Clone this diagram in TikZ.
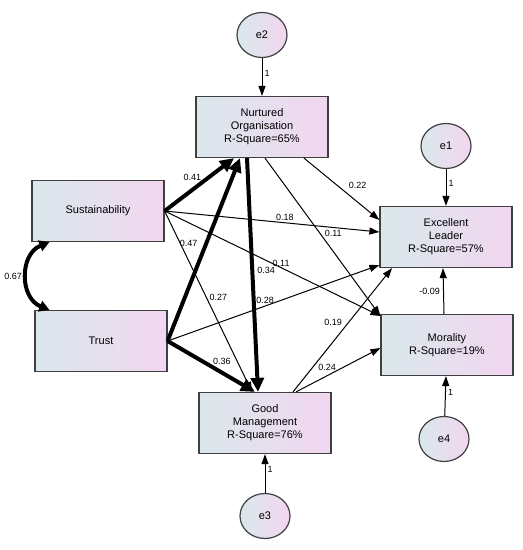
\documentclass[tikz,border=0pt]{standalone}
\usepackage{fontspec}
\setmainfont{Liberation Sans}
\usetikzlibrary{arrows.meta,shapes.geometric}
\definecolor{boxleft}{RGB}{218,232,236}
\definecolor{boxright}{RGB}{242,214,240}
\begin{document}
\begin{tikzpicture}
[
x=1pt, y=-1pt,
observed/.style={rectangle, draw=black!75, line width=1.2pt, left color=boxleft, right color=boxright, minimum width=132pt, minimum height=61pt, align=center, inner sep=2pt, font=\fontsize{11}{13}\selectfont},
residual/.style={ellipse, draw=black!75, line width=1.2pt, left color=boxleft, right color=boxright, minimum width=50pt, minimum height=45pt, inner sep=0pt, font=\fontsize{11}{13}\selectfont},
path_thin/.style={line width=1pt, -{Triangle[length=10pt,width=7pt]}},
path_bold/.style={line width=4pt, -{Triangle[length=14pt,width=13pt]}},
coef/.style={font=\fontsize{9}{10}\selectfont, inner sep=1pt}
]
\useasboundingbox (0,0) rectangle (523,550);
%Nodes
\node[observed]     (sust)      at (98,211)     {Sustainability};
\node[observed]     (trust)     at (101,341)    {Trust};
\node[observed]     (no)        at (262,127)    {Nurtured\\Organisation\\R-Square=65\%};
\node[observed]     (gm)        at (265,423)    {Good\\Management\\R-Square=76\%};
\node[observed]     (el)        at (446,237)    {Excellent\\Leader\\R-Square=57\%};
\node[observed]     (mor)       at (447,345)    {Morality\\R-Square=19\%};
\node[residual]     (e2)        at (262,35)     {e2};
\node[residual]     (e1)        at (446,146)    {e1};
\node[residual]     (e3)        at (265,516)    {e3};
\node[residual]     (e4)        at (444,439)    {e4};

%Lines
\draw[line width=4pt, {Triangle[length=10pt,width=11pt]}-{Triangle[length=10pt,width=11pt]}]
([xshift=18pt]sust.south west) .. controls +(-30,12) and +(-30,-12) .. ([xshift=15pt]trust.north west)
node[coef, pos=.5, left=2pt] {0.67};
\path
(e2)      edge [path_thin]  node [coef, pos=.4, right=1pt]     {1}     (no)
(e1)      edge [path_thin]  node [coef, pos=.4, right=1pt]     {1}     (el)
(e3)      edge [path_thin]  node [coef, pos=.6, right=1pt]     {1}     (gm)
(e4)      edge [path_thin]  node [coef, pos=.6, right=1pt]     {1}     (mor)
([xshift=-3pt]mor.north) edge [path_thin] node [coef, pos=.5, left=2pt] {-0.09} ([xshift=-3pt]el.south)
(sust.east)  edge [path_bold]  node [coef, pos=.4, above=6pt]       {0.41}  ([xshift=-28pt]no.south)
(trust.east) edge [path_bold]  node [coef, pos=.535, left=6pt]      {0.47}  ([xshift=-22pt]no.south)
([xshift=-15pt]no.south) edge [path_bold] node [coef, pos=.48, right=2pt] {0.34} ([xshift=-7pt]gm.north)
(trust.east) edge [path_bold]  node [coef, pos=.62, above=5pt]      {0.36}  ([xshift=-10pt]gm.north)
(sust.east)  edge [path_thin]  node [coef, pos=.475, right=2pt]     {0.27}  ([xshift=-13pt]gm.north)
(sust.east)  edge [path_thin]  node [coef, pos=.56, above=1pt]      {0.18}  ([yshift=5pt]el.west)
(sust.east)  edge [path_thin]  node [coef, pos=.54, above=0pt]      {0.11}  ([yshift=29pt]mor.west)
(trust.east) edge [path_thin]  node [coef, pos=.46, above=1pt]      {0.28}  ([yshift=-28pt]el.west)
([xshift=42pt]no.south) edge [path_thin] node [coef, pos=.55, above right=2pt] {0.22} ([yshift=17pt]el.west)
([xshift=3pt]no.south)  edge [path_thin] node [coef, pos=.48, right=3pt] {0.11} ([yshift=29pt]mor.west)
([xshift=28pt]gm.north) edge [path_thin] node [coef, pos=.56, left=5pt]  {0.19} ([xshift=-54pt]el.south)
([xshift=31pt]gm.north) edge [path_thin] node [coef, pos=.37, above=4pt] {0.24} ([yshift=-3pt]mor.west);
\end{tikzpicture}
\end{document}
